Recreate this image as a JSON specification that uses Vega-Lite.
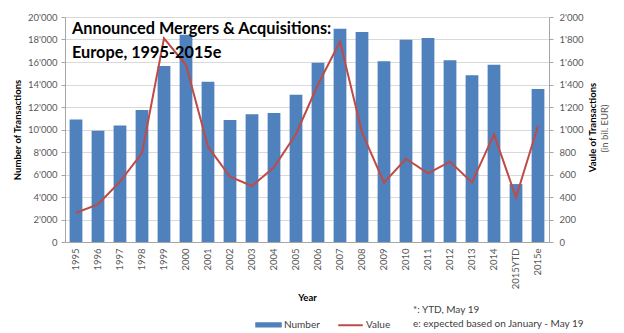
{
  "$schema": "https://vega.github.io/schema/vega-lite/v6.json",
  "width": 484,
  "height": 225,
  "autosize": {"type": "none"},
  "padding": {"left": 65, "top": 17, "right": 75, "bottom": 91},
  "background": "white",
  "config": {
    "locale": {"number": {"decimal": ".", "thousands": "'", "grouping": [3], "currency": ["", ""]}},
    "font": "Lato",
    "view": {"stroke": null},
    "axis": {
      "labelColor": "#595959",
      "labelFontSize": 9.5,
      "titleFontSize": 9.5,
      "titleFontWeight": "bold",
      "titleColor": "#000000",
      "domainColor": "#A6A6A6",
      "tickColor": "#A6A6A6",
      "gridColor": "#D9D9D9",
      "tickSize": 4
    }
  },
  "title": {
    "text": ["*: YTD, May 19", "e: expected based on January - May 19"],
    "orient": "bottom",
    "anchor": "start",
    "frame": "group",
    "dx": 348,
    "dy": -30,
    "fontSize": 10,
    "fontWeight": "normal",
    "color": "#404040",
    "lineHeight": 14
  },
  "data": {
    "values": [
      {"year": "1995", "number": 10900, "value": 260},
      {"year": "1996", "number": 9900, "value": 335},
      {"year": "1997", "number": 10350, "value": 536},
      {"year": "1998", "number": 11730, "value": 790},
      {"year": "1999", "number": 15640, "value": 1810},
      {"year": "2000", "number": 18430, "value": 1573},
      {"year": "2001", "number": 14250, "value": 847},
      {"year": "2002", "number": 10840, "value": 580},
      {"year": "2003", "number": 11350, "value": 498},
      {"year": "2004", "number": 11470, "value": 664},
      {"year": "2005", "number": 13090, "value": 960},
      {"year": "2006", "number": 15940, "value": 1400},
      {"year": "2007", "number": 18960, "value": 1781},
      {"year": "2008", "number": 18670, "value": 975},
      {"year": "2009", "number": 16060, "value": 527},
      {"year": "2010", "number": 17980, "value": 740},
      {"year": "2011", "number": 18130, "value": 610},
      {"year": "2012", "number": 16150, "value": 714},
      {"year": "2013", "number": 14815, "value": 530},
      {"year": "2014", "number": 15760, "value": 957},
      {"year": "2015YTD", "number": 5150, "value": 397},
      {"year": "2015e", "number": 13600, "value": 1031}
    ]
  },
  "encoding": {
    "x": {
      "field": "year",
      "type": "ordinal",
      "sort": null,
      "scale": {"paddingInner": 0.42, "paddingOuter": 0.21},
      "axis": {"title": "Year", "labelAngle": -90, "labelPadding": 6, "ticks": false, "titlePadding": 4, "domainColor": "#A6A6A6"}
    }
  },
  "layer": [
    {
      "mark": {"type": "bar", "color": "#4F81BD"},
      "encoding": {
        "y": {
          "field": "number",
          "type": "quantitative",
          "scale": {"domain": [0, 20000]},
          "axis": {"title": "Number of Transactions", "tickCount": 10, "grid": true, "format": ",d", "labelPadding": 4, "titlePadding": 5}
        },
        "color": {
          "datum": "Number",
          "scale": {"domain": ["Number", "Value"], "range": ["#4F81BD", "#BE4B48"]},
          "legend": {
            "orient": "none",
            "legendX": 190,
            "legendY": 294,
            "direction": "horizontal",
            "title": null,
            "labelFontSize": 10,
            "labelColor": "#404040",
            "symbolSize": 600,
            "labelOffset": 2,
            "columnPadding": 14,
            "encode": {
              "symbols": {
                "update": {
                  "shape": {"signal": "datum.value === 'Number' ? 'M-1,-0.14H1V0.14H-1Z' : 'M-1,0H1'"},
                  "fill": {"signal": "datum.value === 'Number' ? '#4F81BD' : 'transparent'"},
                  "stroke": {"signal": "datum.value === 'Number' ? 'transparent' : '#BE4B48'"},
                  "strokeWidth": {"value": 2},
                  "opacity": {"value": 1}
                }
              }
            }
          }
        }
      }
    },
    {
      "mark": {"type": "line", "strokeWidth": 2},
      "encoding": {
        "y": {
          "field": "value",
          "type": "quantitative",
          "scale": {"domain": [0, 2000]},
          "axis": {"orient": "right", "title": "Vaule of Transactions", "titleAngle": 270, "titleX": 38, "titleY": 110, "titleBaseline": "top", "titleAlign": "center", "tickCount": 10, "grid": false, "format": ",d", "labelPadding": 6}
        },
        "color": {"datum": "Value"}
      }
    },
    {
      "data": {"values": [{"heading": "Announced Mergers & Acquisitions:\nEurope, 1995-2015e"}]},
      "mark": {
        "type": "text",
        "align": "left",
        "baseline": "alphabetic",
        "fontSize": 16.3,
        "fontWeight": "bold",
        "lineBreak": "\n",
        "lineHeight": 24,
        "dx": -4,
        "color": "#000000"
      },
      "encoding": {
        "x": {"datum": "1995"},
        "y": {
          "datum": 18489,
          "type": "quantitative",
          "scale": {"domain": [0, 20000]},
          "axis": {"orient": "right", "title": "(in bil. EUR)", "labels": false, "ticks": false, "domain": false, "grid": false, "titleFontWeight": "normal", "titleColor": "#595959", "titleAngle": 270, "titleX": 50, "titleY": 111, "titleBaseline": "top", "titleAlign": "center"}
        },
        "text": {"field": "heading"}
      }
    }
  ],
  "resolve": {"scale": {"y": "independent"}}
}
